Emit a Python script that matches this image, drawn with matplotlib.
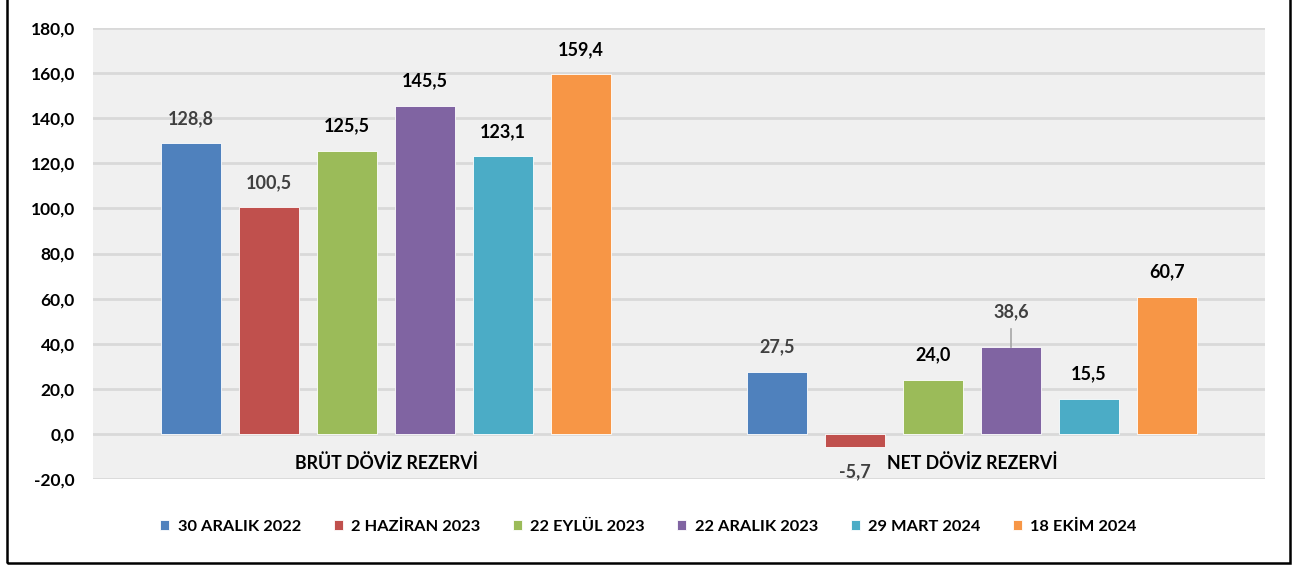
"""Brüt / net döviz rezervi karşılaştırma grafiği."""

import matplotlib

matplotlib.use("Agg")

import matplotlib.pyplot as plt
import numpy as np
from matplotlib.patches import Rectangle


CATEGORIES = ["BRÜT DÖVİZ REZERVİ", "NET DÖVİZ REZERVİ"]
SERIES = ["30 ARALIK 2022", "2 HAZİRAN 2023", "22 EYLÜL 2023",
          "22 ARALIK 2023", "29 MART 2024", "18 EKİM 2024"]
BRUT = [128.8, 100.5, 125.5, 145.5, 123.1, 159.4]
NET = [27.5, -5.7, 24.0, 38.6, 15.5, 60.7]
Y_TICKS = [-20, 0, 20, 40, 60, 80, 100, 120, 140, 160, 180]

COLORS = ["#4F81BD", "#C0504D", "#9BBB59", "#8064A2", "#4BACC6", "#F79646"]
# which data labels appear in gray in the original
GRAY_LABELS = [[True, True, False, False, False, False],
               [True, True, False, True, False, False]]

FONT = ["Lato", "DejaVu Sans"]


def fmt(v):
    return f"{v:.1f}".replace(".", ",")


def main():
    plt.rcParams["font.family"] = FONT
    fig = plt.figure(figsize=(12.97, 5.67), dpi=100)
    ax = fig.add_axes([93 / 1297, 1 - 479 / 567, (1265 - 93) / 1297, (479 - 28) / 567])
    ax.set_facecolor("#F0F0F0")

    values = np.array([BRUT, NET])
    x = np.arange(len(CATEGORIES))
    step = 78 / 586
    width = 60 / 586

    for i, name in enumerate(SERIES):
        xs = x + (i - 2.5) * step
        ax.bar(xs, values[:, i], width=width, color=COLORS[i], label=name,
               edgecolor="white", linewidth=0.6, zorder=3)
        for j in range(len(CATEGORIES)):
            v = values[j, i]
            color = "#404040" if GRAY_LABELS[j][i] else "black"
            if j == 1 and i == 3:
                # leader line for the shifted label
                ax.plot([xs[j], xs[j]], [v, v + 8], color="#A6A6A6", lw=1.2, zorder=4)
                ax.text(xs[j], v + 15.5, fmt(v), ha="center", va="center",
                        fontsize=13, fontweight="bold", color=color)
                continue
            if v >= 0:
                y = v + 11
            else:
                y = v - 11
            ax.text(xs[j], y, fmt(v), ha="center", va="center",
                    fontsize=13, fontweight="bold", color=color)

    for j, cat in enumerate(CATEGORIES):
        ax.text(x[j], -13, cat, ha="center", va="center", fontsize=12.8,
                fontweight="bold", color="black")

    ax.set_xlim(-0.5, 1.5)
    ax.set_ylim(-20, 180)
    ax.set_yticks(Y_TICKS, [fmt(t) for t in Y_TICKS])
    ax.set_xticks([])
    ax.tick_params(axis="y", length=0, pad=13, labelsize=12.5)
    for lbl in ax.get_yticklabels():
        lbl.set_fontweight("bold")
    ax.grid(axis="y", color="#D9D9D9", linewidth=2, zorder=1)
    for s in ax.spines.values():
        s.set_visible(False)

    fig.legend(loc="center", bbox_to_anchor=(0.5, 1 - 527 / 567), ncol=6,
               frameon=False, handlelength=0.55, handleheight=0.55,
               handletextpad=0.5, columnspacing=2.0,
               prop={"family": FONT, "weight": "bold", "size": 11.8})

    fig.add_artist(Rectangle((7 / 1297, 4 / 567), (1290 - 7) / 1297, 1.2,
                             transform=fig.transFigure, fill=False,
                             edgecolor="black", linewidth=1.8))

    fig.savefig("out.png", dpi=100, facecolor="white")
    plt.close(fig)


if __name__ == "__main__":
    main()
